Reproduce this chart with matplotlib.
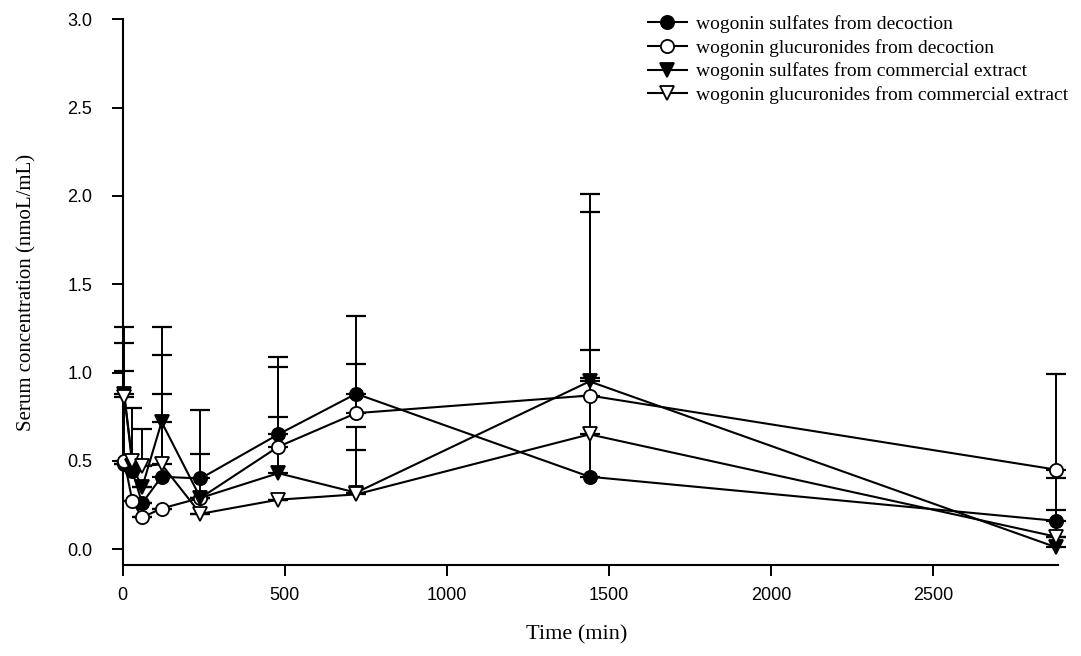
import numpy as np
import matplotlib
matplotlib.use("Agg")
import matplotlib.pyplot as plt

# sampling times (min)
time_min = [5, 30, 60, 120, 240, 480, 720, 1440, 2880]

# serum concentrations (nmoL/mL) with upper SD
sulf_decoction = [0.48, 0.44, 0.26, 0.41, 0.40, 0.65, 0.88, 0.41, 0.16]
sulf_decoction_sd = [0.0, 0.0, 0.0, 0.47, 0.39, 0.44, 0.44, 0.56, 0.06]

gluc_decoction = [0.50, 0.27, 0.18, 0.23, 0.29, 0.58, 0.77, 0.87, 0.45]
gluc_decoction_sd = [0.51, 0.0, 0.0, 0.0, 0.25, 0.45, 0.28, 1.04, 0.54]

sulf_extract = [0.88, 0.47, 0.35, 0.72, 0.29, 0.43, 0.32, 0.95, 0.01]
sulf_extract_sd = [0.38, 0.0, 0.0, 0.54, 0.0, 0.32, 0.24, 1.06, 0.39]

gluc_extract = [0.86, 0.50, 0.47, 0.48, 0.20, 0.28, 0.31, 0.65, 0.07]
gluc_extract_sd = [0.31, 0.30, 0.21, 0.62, 0.0, 0.0, 0.38, 0.48, 0.0]

labels = [
    "wogonin sulfates from decoction",
    "wogonin glucuronides from decoction",
    "wogonin sulfates from commercial extract",
    "wogonin glucuronides from commercial extract",
]

series = [
    (sulf_decoction, sulf_decoction_sd, "o", "black"),
    (gluc_decoction, gluc_decoction_sd, "o", "white"),
    (sulf_extract, sulf_extract_sd, "v", "black"),
    (gluc_extract, gluc_extract_sd, "v", "white"),
]

fig = plt.figure(figsize=(10.81, 6.56), dpi=100)
ax = fig.add_axes([0.1135, 0.1387, 0.8652, 0.8317])

for (vals, sd, mk, fc), lab in zip(series, labels):
    vals = np.array(vals)
    sd = np.array(sd)
    # only the upper half of each SD bar is drawn
    ax.errorbar(time_min, vals, yerr=[np.zeros_like(sd), sd], fmt="none",
                ecolor="black", elinewidth=1.4, capsize=7, capthick=1.6,
                clip_on=False, zorder=2)
    ax.plot(time_min, vals, color="black", lw=1.5, marker=mk, ms=9.5,
            mfc=fc, mec="black", mew=1.3, label=lab, clip_on=False, zorder=3)

ax.set_xlim(0, 2885)
ax.set_ylim(-0.09, 3.0)
ax.set_xticks([0, 500, 1000, 1500, 2000, 2500])
yt = np.arange(0, 3.01, 0.5)
ax.set_yticks(yt)
ax.set_yticklabels([f"{v:.1f}" for v in yt])

ax.spines["top"].set_visible(False)
ax.spines["right"].set_visible(False)
ax.spines["left"].set_linewidth(1.5)
ax.spines["bottom"].set_linewidth(1.5)
ax.tick_params(direction="out", length=8, width=1.4, labelsize=13)
ax.tick_params(axis="y", pad=14)
ax.tick_params(axis="x", pad=8)
for t in ax.get_xticklabels() + ax.get_yticklabels():
    t.set_family("Liberation Sans")

ax.set_xlabel("Time (min)", family="Liberation Serif", fontsize=16)
ax.set_ylabel("Serum concentration (nmoL/mL)", family="Liberation Serif",
              fontsize=15, labelpad=22)
ax.xaxis.set_label_coords(0.485, -0.11)

leg = ax.legend(loc="upper right", bbox_to_anchor=(1.03, 1.04), frameon=False,
                prop={"family": "Liberation Serif", "size": 14},
                handlelength=2.0, handletextpad=0.5, labelspacing=0.3)

fig.savefig("out.png", dpi=100)
